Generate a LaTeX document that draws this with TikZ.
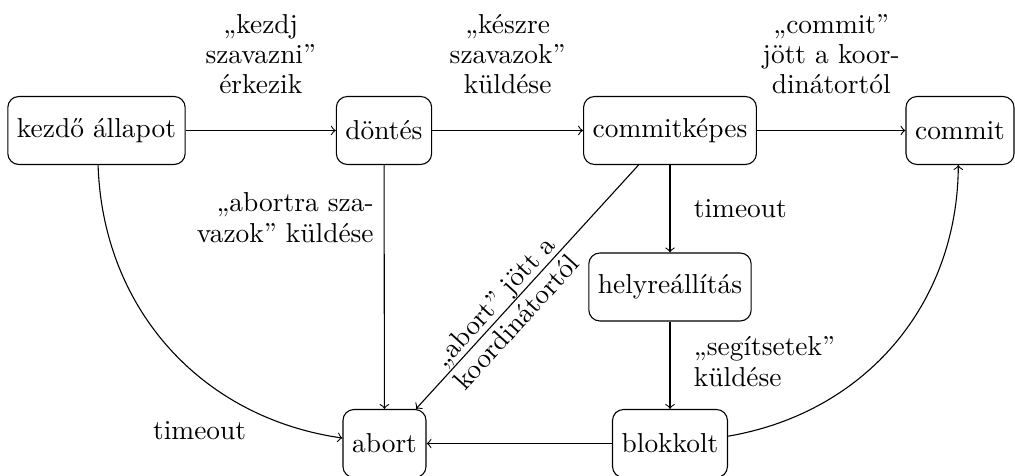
\documentclass[tikz,border=0pt]{standalone}
\begin{document}
\begin{tikzpicture}[x=0.36496pt, y=0.36496pt,
  state/.style={draw, rounded corners=4pt, minimum height=24.8pt, inner sep=3.33pt},
  lab/.style={font=\fontsize{10}{11.1}\selectfont},
  toplab/.style={lab, above=9.7pt, align=center},
  rightlab/.style={lab, right=5.2pt, align=left},
  leftlab/.style={lab, left=0.3pt, align=right},
  trans/.style={->}]
\useasboundingbox (0,0) rectangle (1015,476);

% states
\node[state] (kezdo)    at (96.5,345.5) {kezdő állapot};
\node[state] (dontes)   at (384,345.5)  {döntés};
\node[state] (commitk)  at (670,345.5)  {commitképes};
\node[state] (commit)   at (960,345.5)  {commit};
\node[state] (helyre)   at (670,189)    {helyreállítás};
\node[state] (blokkolt) at (670,32.5)   {blokkolt};
\node[state] (abort)    at (384.5,32.5) {abort};

% transitions
\draw[trans] (kezdo) -- node[toplab] {„kezdj\\szavazni”\\érkezik} (dontes);
\draw[trans] (dontes) -- node[toplab] {„készre\\szavazok”\\küldése} (commitk);
\draw[trans] (commitk) -- node[toplab] {„commit”\\jött a koor-\\dinátortól} (commit);
\draw[trans] (commitk) -- node[rightlab] {timeout} (helyre);
\draw[trans] (helyre) -- node[rightlab, pos=0.46] {„segítsetek”\\küldése} (blokkolt);
\draw[trans] (blokkolt) -- (abort);
\draw[trans] (dontes) -- node[leftlab, pos=0.215] {„abortra sza-\\vazok” küldése} (abort);
\draw[trans] (commitk) -- node[lab, sloped, align=center, pos=0.6] {„abort” jött a\\koordinátortól} (abort);
\draw[trans] (kezdo) to[bend right=40] node[lab, below left, pos=0.78] {timeout} (abort);
\draw[trans] (blokkolt) to[bend right=40] (commit);
\end{tikzpicture}
\end{document}
